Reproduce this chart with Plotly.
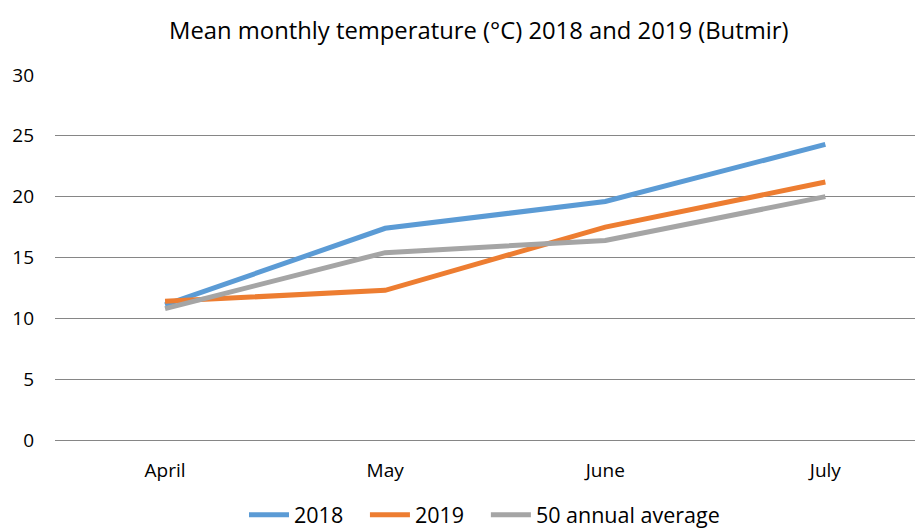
import plotly.graph_objects as go

months = ["April", "May", "June", "July"]
t2018 = [11.1, 17.4, 19.6, 24.3]
t2019 = [11.4, 12.3, 17.5, 21.2]
avg50 = [10.8, 15.4, 16.4, 20.0]
y_ticks = [0, 5, 10, 15, 20, 25, 30]
series_names = ["2018", "2019", "50 annual average"]

font_family = "Open Sans, Liberation Sans, sans-serif"
pad = "\u00a0" * 3

fig = go.Figure()
for name, vals, color in [(series_names[0], t2018, "#5B9BD5"),
                          (series_names[1], t2019, "#ED7D31"),
                          (series_names[2], avg50, "#A5A5A5")]:
    fig.add_trace(go.Scatter(x=list(range(len(months))), y=vals, name=name + pad,
                             mode="lines", line=dict(color=color, width=5)))

fig.update_layout(
    width=923, height=530,
    paper_bgcolor="white", plot_bgcolor="white",
    margin=dict(l=47, r=0, t=67, b=98),
    title=dict(text="Mean monthly temperature (°C) 2018 and 2019 (Butmir)",
               x=0.51, xanchor="center", y=0.958, yanchor="middle",
               font=dict(family=font_family, size=23.8, color="#000000")),
    font=dict(family=font_family, size=19, color="#000000"),
    showlegend=True,
    legend=dict(orientation="h", x=0.5, xanchor="center", y=-0.205, yanchor="middle",
                font=dict(size=21.5), itemwidth=40, traceorder="normal"),
    xaxis=dict(tickmode="array", tickvals=list(range(len(months))), ticktext=months,
               range=[-0.5, 3.48], showgrid=False, zeroline=False, showline=False,
               ticks="", ticklabelstandoff=17, tickfont=dict(size=19)),
    yaxis=dict(range=[0, 30], tickvals=y_ticks, showgrid=True, gridcolor="#868686",
               gridwidth=1, zeroline=True, zerolinecolor="#868686", zerolinewidth=1,
               showline=False, ticks="", ticklabelstandoff=20, tickfont=dict(size=19)),
)

fig.write_html("out.html")
